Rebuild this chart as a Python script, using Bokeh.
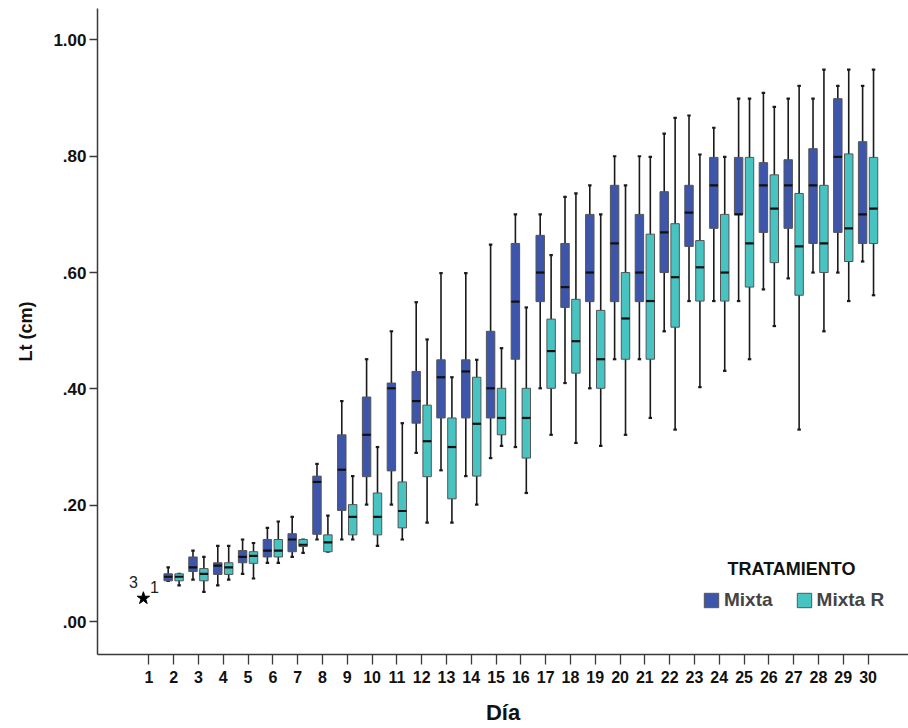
from bokeh.plotting import figure
from bokeh.models import (ColumnDataSource, FixedTicker, Legend, LegendItem,
                          Range1d, Label)
from bokeh.transform import dodge
from bokeh.core.properties import value
from bokeh.embed import file_html
from bokeh.resources import INLINE

# ---------------- data ----------------
days = list(range(2, 31))

mixta_low = [0.070, 0.072, 0.062, 0.082, 0.101, 0.111, 0.141, 0.141, 0.201, 0.201,
             0.290, 0.260, 0.250, 0.281, 0.300, 0.401, 0.410, 0.401, 0.451, 0.451,
             0.499, 0.551, 0.551, 0.551, 0.571, 0.590, 0.600, 0.600, 0.619]
mixta_q1 = [0.070, 0.086, 0.081, 0.101, 0.111, 0.120, 0.150, 0.191, 0.249, 0.259,
            0.341, 0.350, 0.350, 0.350, 0.451, 0.550, 0.540, 0.550, 0.550, 0.550,
            0.600, 0.645, 0.676, 0.700, 0.669, 0.676, 0.650, 0.669, 0.650]
mixta_med = [0.077, 0.093, 0.096, 0.111, 0.122, 0.141, 0.240, 0.261, 0.321, 0.401,
             0.379, 0.420, 0.430, 0.401, 0.550, 0.600, 0.575, 0.600, 0.650, 0.600,
             0.669, 0.703, 0.750, 0.700, 0.750, 0.750, 0.750, 0.799, 0.700]
mixta_q3 = [0.082, 0.111, 0.101, 0.122, 0.141, 0.151, 0.250, 0.321, 0.386, 0.410,
            0.430, 0.450, 0.450, 0.499, 0.650, 0.664, 0.650, 0.700, 0.750, 0.700,
            0.739, 0.750, 0.798, 0.798, 0.789, 0.794, 0.813, 0.899, 0.825]
mixta_high = [0.093, 0.122, 0.130, 0.141, 0.161, 0.180, 0.271, 0.379, 0.451, 0.499,
              0.549, 0.599, 0.599, 0.648, 0.700, 0.700, 0.730, 0.750, 0.800, 0.800,
              0.839, 0.870, 0.849, 0.899, 0.909, 0.899, 0.899, 0.921, 0.921]

mixtar_low = [0.062, 0.051, 0.072, 0.074, 0.101, 0.118, 0.120, 0.141, 0.130, 0.141,
              0.170, 0.170, 0.201, 0.302, 0.221, 0.321, 0.307, 0.302, 0.321, 0.350,
              0.330, 0.403, 0.431, 0.451, 0.508, 0.330, 0.499, 0.551, 0.561]
mixtar_q1 = [0.070, 0.070, 0.081, 0.100, 0.111, 0.129, 0.120, 0.149, 0.149, 0.161,
             0.249, 0.211, 0.250, 0.321, 0.281, 0.401, 0.427, 0.401, 0.451, 0.451,
             0.506, 0.551, 0.551, 0.575, 0.617, 0.561, 0.600, 0.619, 0.650]
mixtar_med = [0.077, 0.082, 0.093, 0.113, 0.122, 0.132, 0.136, 0.180, 0.180, 0.190,
              0.310, 0.300, 0.340, 0.350, 0.350, 0.465, 0.482, 0.451, 0.521, 0.551,
              0.592, 0.609, 0.600, 0.650, 0.710, 0.645, 0.650, 0.676, 0.710]
mixtar_q3 = [0.082, 0.091, 0.101, 0.120, 0.141, 0.141, 0.149, 0.201, 0.221, 0.240,
             0.372, 0.350, 0.420, 0.401, 0.401, 0.520, 0.554, 0.535, 0.600, 0.666,
             0.684, 0.655, 0.700, 0.798, 0.768, 0.736, 0.750, 0.804, 0.798]
mixtar_high = [0.082, 0.111, 0.130, 0.135, 0.172, 0.141, 0.182, 0.250, 0.300, 0.341,
               0.485, 0.420, 0.450, 0.470, 0.540, 0.630, 0.736, 0.700, 0.750, 0.799,
               0.866, 0.803, 0.799, 0.899, 0.885, 0.921, 0.949, 0.949, 0.949]

# extreme value (day 1, Mixta) with its case numbers
extreme_day = [1]
extreme_value = [0.040]
extreme_case_a = ["3"]
extreme_case_b = ["1"]

tick_days = list(range(1, 31))
y_ticks = [0.0, 0.2, 0.4, 0.6, 0.8, 1.0]
y_tick_labels = [".00", ".20", ".40", ".60", ".80", "1.00"]

groups = ["Mixta", "Mixta R"]
colors = ["#3D55AB", "#47C3C2"]
legend_title = "TRATAMIENTO"

# ---------------- figure ----------------
p = figure(width=908, height=728, output_backend="svg",
           toolbar_location=None, x_range=Range1d(-1.07, 31.63),
           y_range=Range1d(-0.0567, 1.054),
           min_border_left=97, min_border_right=0, min_border_top=8,
           min_border_bottom=74)
p.outline_line_color = None
p.xgrid.grid_line_color = None
p.ygrid.grid_line_color = None
p.background_fill_color = "white"
p.border_fill_color = "white"

offsets = [-0.22, 0.22]
box_w = 0.34
cap_w = 0.14

series = [
    (mixta_low, mixta_q1, mixta_med, mixta_q3, mixta_high),
    (mixtar_low, mixtar_q1, mixtar_med, mixtar_q3, mixtar_high),
]

box_renderers = []
for (lo, q1, med, q3, hi), off, col in zip(series, offsets, colors):
    src = ColumnDataSource(dict(day=days, lo=lo, q1=q1, med=med, q3=q3, hi=hi))
    xc = dodge("day", off, range=p.x_range)
    xl = dodge("day", off - cap_w / 2, range=p.x_range)
    xr = dodge("day", off + cap_w / 2, range=p.x_range)
    bl = dodge("day", off - box_w / 2, range=p.x_range)
    br = dodge("day", off + box_w / 2, range=p.x_range)
    p.segment(x0=xc, y0="lo", x1=xc, y1="hi", source=src,
              line_color="#1a1a1a", line_width=1.6)
    p.segment(x0=xl, y0="hi", x1=xr, y1="hi", source=src,
              line_color="#1a1a1a", line_width=2.2)
    p.segment(x0=xl, y0="lo", x1=xr, y1="lo", source=src,
              line_color="#1a1a1a", line_width=2.2)
    r = p.vbar(x=xc, width=box_w, bottom="q1", top="q3", source=src,
               fill_color=col, line_color="#555555", line_width=1)
    box_renderers.append(r)
    p.segment(x0=bl, y0="med", x1=br, y1="med", source=src,
              line_color="#111111", line_width=2.2)

# extreme
esrc = ColumnDataSource(dict(day=extreme_day, v=extreme_value,
                             a=extreme_case_a, b=extreme_case_b))
ex = dodge("day", offsets[0], range=p.x_range)
p.scatter(x=ex, y="v", source=esrc, marker="star", size=13,
          fill_color="black", line_color="black")
p.text(x=ex, y="v", text="a", source=esrc, x_offset=-10, y_offset=-16,
       text_font=value("Liberation Sans"), text_font_size="16px",
       text_align="center", text_baseline="middle", text_color="#222222")
p.text(x=ex, y="v", text="b", source=esrc, x_offset=11, y_offset=-11,
       text_font=value("Liberation Sans"), text_font_size="16px",
       text_align="center", text_baseline="middle", text_color="#222222")

# ---------------- axes ----------------
ax = p.xaxis[0]
ax.ticker = FixedTicker(ticks=tick_days)
ax.axis_label = "Día"
ax.axis_label_text_font = "Liberation Sans"
ax.axis_label_text_font_style = "bold"
ax.axis_label_text_font_size = "22px"
ax.axis_label_text_color = "#111111"
ax.axis_label_standoff = 14
ax.major_label_text_font = "Liberation Sans"
ax.major_label_text_font_style = "bold"
ax.major_label_text_font_size = "16px"
ax.major_label_text_color = "#111111"
ax.major_label_standoff = 6
ax.major_tick_out = 10
ax.major_tick_in = 0
ax.minor_tick_line_color = None
ax.axis_line_color = "#3a3a3a"
ax.axis_line_width = 1.5
ax.major_tick_line_color = "#3a3a3a"
ax.major_tick_line_width = 1.3

ay = p.yaxis[0]
ay.ticker = FixedTicker(ticks=y_ticks)
ay.major_label_overrides = {t: l for t, l in zip(y_ticks, y_tick_labels)}
ay.axis_label = "Lt (cm)"
ay.axis_label_text_font = "Liberation Sans"
ay.axis_label_text_font_style = "bold"
ay.axis_label_text_font_size = "18px"
ay.axis_label_text_color = "#111111"
ay.axis_label_standoff = 14
ay.major_label_text_font = "Liberation Sans"
ay.major_label_text_font_style = "bold"
ay.major_label_text_font_size = "17px"
ay.major_label_text_color = "#111111"
ay.major_label_standoff = 3
ay.major_tick_out = 8
ay.major_tick_in = 0
ay.minor_tick_line_color = None
ay.axis_line_color = "#3a3a3a"
ay.axis_line_width = 1.5
ay.major_tick_line_color = "#3a3a3a"
ay.major_tick_line_width = 1.3

# ---------------- legend ----------------
legend = Legend(items=[LegendItem(label=g, renderers=[r])
                       for g, r in zip(groups, box_renderers)],
                orientation="horizontal", location=(605, 43),
                glyph_width=18, glyph_height=18, label_standoff=4,
                spacing=22, padding=0, margin=0,
                label_text_font="Liberation Sans", label_text_font_style="bold",
                label_text_font_size="19px", label_height=18,
                background_fill_alpha=0, border_line_color=None)
p.add_layout(legend, "center")
p.add_layout(Label(x=694, y=86, x_units="screen", y_units="screen",
                   text=legend_title, text_align="center",
                   text_baseline="middle", text_font="Liberation Sans",
                   text_font_style="bold", text_font_size="18px",
                   text_color="#111111"))

open("out.html", "w").write(file_html(p, INLINE))
